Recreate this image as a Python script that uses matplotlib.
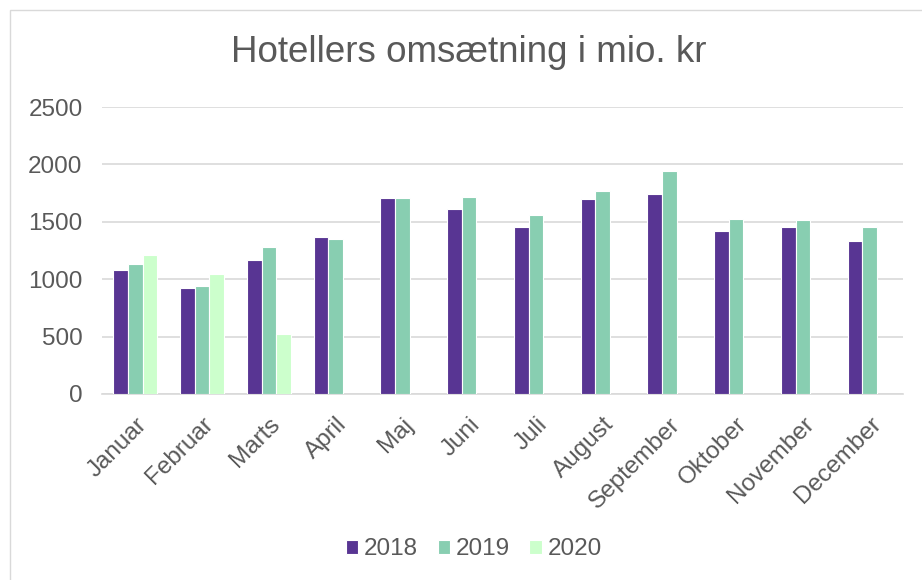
import numpy as np
import matplotlib.pyplot as plt
from matplotlib.patches import Rectangle

# ===================== 数据 =====================
months = ['Januar', 'Februar', 'Marts', 'April', 'Maj', 'Juni', 'Juli',
          'August', 'September', 'Oktober', 'November', 'December']
years = ['2018', '2019', '2020']
v2018 = [1076, 925, 1169, 1366, 1705, 1615, 1456, 1700, 1746, 1418, 1453, 1331]
v2019 = [1131, 940, 1279, 1349, 1708, 1714, 1563, 1766, 1943, 1525, 1520, 1459]
v2020 = [1215, 1047, 525, np.nan, np.nan, np.nan, np.nan, np.nan, np.nan, np.nan, np.nan, np.nan]
colors = ['#583593', '#88CEB1', '#CCFFCC']
yticks = [0, 500, 1000, 1500, 2000, 2500]

plt.rcParams['font.family'] = ['Liberation Sans', 'DejaVu Sans']
GRAY = '#595959'
FS = 17.5

fig = plt.figure(figsize=(9.22, 5.8), dpi=100)
fig.patches.append(Rectangle((0.011, -0.01), 0.999, 0.993, transform=fig.transFigure,
                             fill=False, edgecolor='#D9D9D9', linewidth=1))
ax = fig.add_axes([0.1106, 0.3207, 0.8688, 0.4948])

x = np.arange(len(months))
w = 0.22
for i, (vals, yr) in enumerate(zip([v2018, v2019, v2020], years)):
    ax.bar(x + (i - 1) * w, vals, width=w, color=colors[i], edgecolor='white',
           linewidth=0.8, label=yr, zorder=3)

ax.set_xlim(-0.5, len(months) - 0.5)
ax.set_ylim(0, 2500)
ax.set_yticks(yticks)
ax.set_yticklabels([str(t) for t in yticks], fontsize=FS, color=GRAY)
ax.set_xticks(x)
ax.set_xticklabels(months, rotation=45, ha='right', rotation_mode='anchor',
                   fontsize=FS, color=GRAY)
ax.tick_params(axis='y', length=0, pad=14)
ax.tick_params(axis='x', length=0, pad=14)
ax.grid(axis='y', color='#D9D9D9', linewidth=1.2, zorder=0)
for s in ['top', 'right', 'left']:
    ax.spines[s].set_visible(False)
ax.spines['bottom'].set_color('#D9D9D9')
ax.spines['bottom'].set_linewidth(1.2)

fig.text(0.508, 0.91, 'Hotellers omsætning i mio. kr', ha='center', va='center',
         fontsize=26.5, color=GRAY)

fig.legend(loc='center', bbox_to_anchor=(0.514, 0.053), ncol=3, frameon=False,
           fontsize=FS, handlelength=0.5, handleheight=0.5, handletextpad=0.25,
           columnspacing=0.8, labelcolor=GRAY)

fig.savefig('out.png', dpi=100)
